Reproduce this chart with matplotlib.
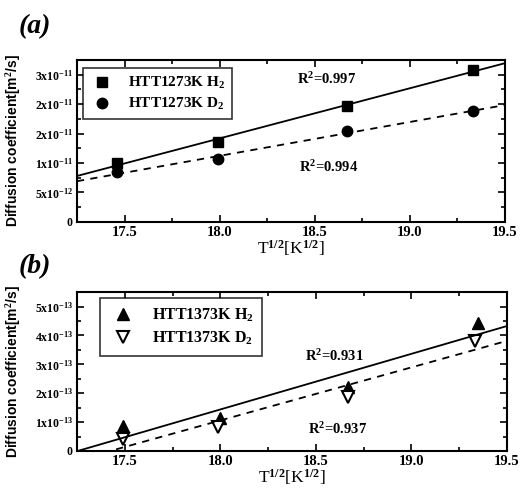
import numpy as np
import matplotlib.pyplot as plt
from matplotlib.ticker import MultipleLocator

# T^1/2 values and diffusion coefficients
sqrt_t = [17.46, 17.99, 18.67, 19.33]
h2_1273 = [1.00e-11, 1.365e-11, 1.96e-11, 2.58e-11]
d2_1273 = [0.84e-11, 1.06e-11, 1.54e-11, 1.88e-11]

sqrt_t_b_h = [17.49, 18.00, 18.67, 19.35]
sqrt_t_b_d = [17.49, 17.99, 18.67, 19.33]
h2_1373 = [0.85e-13, 1.15e-13, 2.22e-13, 4.44e-13]
d2_1373 = [0.42e-13, 0.83e-13, 1.88e-13, 3.82e-13]

r2_a = ['R$^\\mathbf{2}$=0.997', 'R$^\\mathbf{2}$=0.994']
r2_b = ['R$^\\mathbf{2}$=0.931', 'R$^\\mathbf{2}$=0.937']

yticks_a = [0, 0.5e-11, 1e-11, 1.5e-11, 2e-11, 2.5e-11]
ylabels_a = ['0', '5x10$^{-12}$', '1x10$^{-11}$', '2x10$^{-11}$', '2x10$^{-11}$', '3x10$^{-11}$']
yticks_b = [0, 1e-13, 2e-13, 3e-13, 4e-13, 5e-13]
ylabels_b = ['0', '1x10$^{-13}$', '2x10$^{-13}$', '3x10$^{-13}$', '4x10$^{-13}$', '5x10$^{-13}$']
xticks = [17.5, 18.0, 18.5, 19.0, 19.5]

plt.rcParams['font.family'] = 'Liberation Serif'
plt.rcParams['font.weight'] = 'bold'
plt.rcParams['mathtext.fontset'] = 'custom'
plt.rcParams['mathtext.rm'] = 'Liberation Serif:bold'
plt.rcParams['mathtext.bf'] = 'Liberation Serif:bold'
plt.rcParams['mathtext.it'] = 'Liberation Serif:bold'
plt.rcParams['mathtext.default'] = 'bf'

fig = plt.figure(figsize=(5.2, 4.91), dpi=100)
ax1 = fig.add_axes([0.148, 0.548, 0.823, 0.330])
ax2 = fig.add_axes([0.148, 0.0815, 0.827, 0.3235])

def style(ax, yt, yl, ymax, yminor):
    ax.set_xlim(17.25, 19.5)
    ax.set_ylim(0, ymax)
    ax.set_xticks(xticks)
    ax.set_xticklabels(['17.5', '18.0', '18.5', '19.0', '19.5'], fontsize=10.5)
    ax.set_yticks(yt)
    ax.set_yticklabels(yl, fontsize=8.5)
    ax.xaxis.set_minor_locator(MultipleLocator(0.25))
    ax.yaxis.set_minor_locator(MultipleLocator(yminor))
    ax.tick_params(which='both', direction='in', top=True, right=True, width=1.2, pad=3)
    ax.tick_params(which='major', length=5)
    ax.tick_params(which='minor', length=3)
    for s in ax.spines.values():
        s.set_linewidth(1.5)
    ax.set_xlabel('T$^{1/2}$[K$^{1/2}$]', fontsize=12.5, labelpad=-1)
    ax.set_ylabel('Diffusion coefficient[m$^2$/s]', fontsize=10, fontfamily='Liberation Sans',
                  fontweight='bold')
    ax.yaxis.set_label_coords(-0.125, 0.5)

xfit = np.array([17.25, 19.5])

# panel (a)
ax1.plot(sqrt_t, h2_1273, 's', color='black', ms=7, label='HTT1273K H$_2$')
ax1.plot(sqrt_t, d2_1273, 'o', color='black', ms=7.5, label='HTT1273K D$_2$')
p = np.polyfit(sqrt_t, h2_1273, 1)
ax1.plot(xfit, np.polyval(p, xfit), '-', color='black', lw=1.3)
p = np.polyfit(sqrt_t, d2_1273, 1)
ax1.plot(xfit, np.polyval(p, xfit), '--', color='black', lw=1.3, dashes=(4, 3.5))
style(ax1, yticks_a, ylabels_a, 2.75e-11, 0.25e-11)
leg = ax1.legend(loc='upper left', bbox_to_anchor=(0.014, 0.95), borderaxespad=0,
                 fancybox=False, edgecolor='black', fontsize=11, handletextpad=0.9,
                 borderpad=0.45, labelspacing=0.35, handlelength=1.6)
leg.get_frame().set_linewidth(1.2)
ax1.text(18.72, 2.42e-11, r2_a[0], ha='right', va='center', fontsize=10.5)
ax1.text(18.73, 0.93e-11, r2_a[1], ha='right', va='center', fontsize=10.5)
fig.text(0.036, 0.945, '(a)', fontsize=20, fontstyle='italic', fontweight='bold', va='center')

# panel (b)
ax2.plot(sqrt_t_b_h, h2_1373, '^', color='black', ms=9, label='HTT1373K H$_2$')
ax2.plot(sqrt_t_b_d, d2_1373, 'v', color='black', mfc='white', mew=1.5, ms=9,
         label='HTT1373K D$_2$')
p = np.polyfit(sqrt_t_b_h, h2_1373, 1)
ax2.plot(xfit, np.polyval(p, xfit), '-', color='black', lw=1.3)
p = np.polyfit(sqrt_t_b_d, d2_1373, 1)
ax2.plot(xfit, np.polyval(p, xfit), '--', color='black', lw=1.3, dashes=(4, 3.5))
style(ax2, yticks_b, ylabels_b, 5.5e-13, 0.5e-13)
leg = ax2.legend(loc='upper left', bbox_to_anchor=(0.053, 0.962), borderaxespad=0,
                 fancybox=False, edgecolor='black', fontsize=11.5, handletextpad=0.9,
                 borderpad=0.55, labelspacing=0.35, handlelength=1.8)
leg.get_frame().set_linewidth(1.2)
ax2.text(18.75, 3.30e-13, r2_b[0], ha='right', va='center', fontsize=10.5)
ax2.text(18.77, 0.77e-13, r2_b[1], ha='right', va='center', fontsize=10.5)
fig.text(0.036, 0.458, '(b)', fontsize=20, fontstyle='italic', fontweight='bold', va='center')

fig.savefig('out.png', dpi=100)
